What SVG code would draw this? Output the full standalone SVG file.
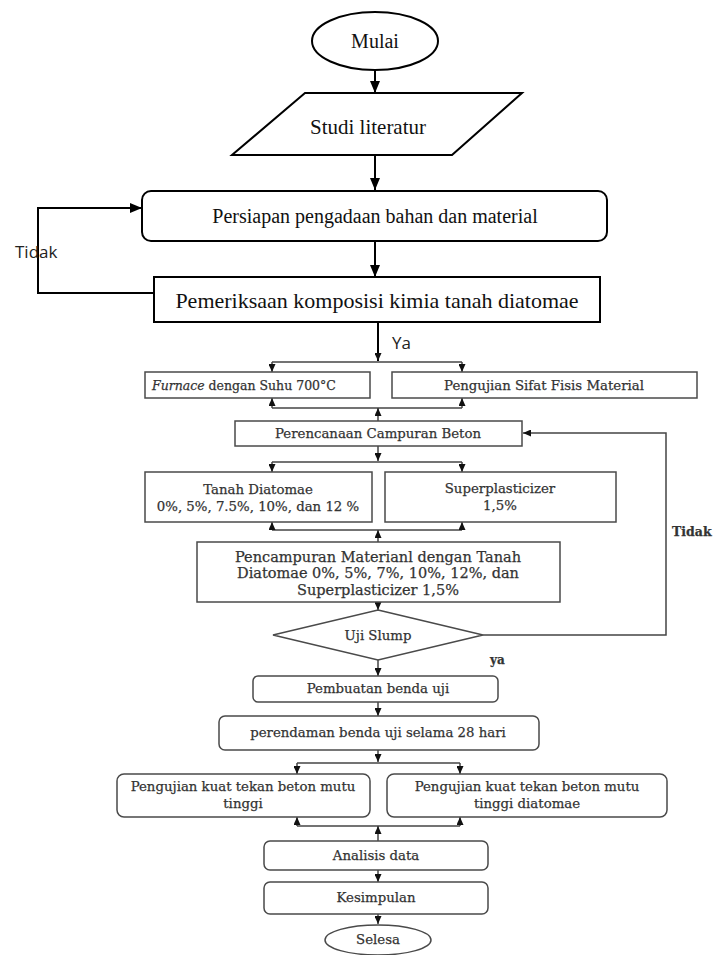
<svg xmlns="http://www.w3.org/2000/svg" width="718" height="955" viewBox="0 0 718 955">
<style>
.up{fill:#fff;stroke:#000;stroke-width:2}
.lo{fill:#fff;stroke:#4a4a4a;stroke-width:1.5}
.tu{font-family:"Liberation Serif","Times New Roman",serif;fill:#111;text-anchor:middle}
.tl{font-family:"DejaVu Serif","Liberation Serif",serif;font-size:13.3px;fill:#333;stroke:#333;stroke-width:0.25;text-anchor:middle}
.sa{font-family:"Open Sans","Liberation Sans",sans-serif;font-size:17px;fill:#222}
.cu{fill:none;stroke:#000;stroke-width:2}
.cl{fill:none;stroke:#444;stroke-width:1.5}
</style>
<defs>
<marker id="ab" markerUnits="userSpaceOnUse" markerWidth="12" markerHeight="10" refX="12" refY="5" orient="auto"><path d="M0,0 L12,5 L0,10 z" fill="#000"/></marker>
<marker id="as" markerUnits="userSpaceOnUse" markerWidth="8" markerHeight="7" refX="8" refY="3.5" orient="auto"><path d="M0,0 L8,3.5 L0,7 z" fill="#111"/></marker>
</defs>
<g id="connectors">
<path class="cu" d="M375,71 V93" marker-end="url(#ab)"/>
<path class="cu" d="M375,155 V190" marker-end="url(#ab)"/>
<path class="cu" d="M375,241 V277" marker-end="url(#ab)"/>
<path class="cu" d="M154,293 H38 V208 H142" marker-end="url(#ab)"/>
<path class="cu" d="M378,322 V361" marker-end="url(#as)"/>
<path class="cl" d="M272,362 H462"/>
<path class="cl" d="M272,362 V372" marker-end="url(#as)"/>
<path class="cl" d="M462,362 V372" marker-end="url(#as)"/>
<path class="cl" d="M272,408 H462"/>
<path class="cl" d="M272,408 V398" marker-end="url(#as)"/>
<path class="cl" d="M462,408 V398" marker-end="url(#as)"/>
<path class="cl" d="M378,421 V408" marker-end="url(#as)"/>
<path class="cl" d="M378,446 V461" marker-end="url(#as)"/>
<path class="cl" d="M272,462 H462"/>
<path class="cl" d="M272,462 V472" marker-end="url(#as)"/>
<path class="cl" d="M462,462 V472" marker-end="url(#as)"/>
<path class="cl" d="M272,530 H462"/>
<path class="cl" d="M272,530 V522" marker-end="url(#as)"/>
<path class="cl" d="M462,530 V522" marker-end="url(#as)"/>
<path class="cl" d="M378,542 V530" marker-end="url(#as)"/>
<path class="cl" d="M378,602 V610" marker-end="url(#as)"/>
<path class="cl" d="M483,635 H666 V433 H523" marker-end="url(#as)"/>
<path class="cl" d="M378,660 V676" marker-end="url(#as)"/>
<path class="cl" d="M378,702 V716" marker-end="url(#as)"/>
<path class="cl" d="M378,750 V762" marker-end="url(#as)"/>
<path class="cl" d="M297,763 H460"/>
<path class="cl" d="M297,763 V774" marker-end="url(#as)"/>
<path class="cl" d="M460,763 V774" marker-end="url(#as)"/>
<path class="cl" d="M297,826 H460"/>
<path class="cl" d="M297,826 V817" marker-end="url(#as)"/>
<path class="cl" d="M460,826 V817" marker-end="url(#as)"/>
<path class="cl" d="M378,841 V826" marker-end="url(#as)"/>
<path class="cl" d="M378,870 V882" marker-end="url(#as)"/>
<path class="cl" d="M378,914 V924" marker-end="url(#as)"/>
<text class="sa" x="15" y="258">Tidak</text>
<text class="sa" x="392" y="349">Ya</text>
<text class="tl" x="672" y="536" style="text-anchor:start;font-weight:bold;font-size:12.5px">Tidak</text>
<text class="tl" x="490" y="664" style="text-anchor:start;font-weight:bold;font-size:12px">ya</text>
</g>
<g id="mulai">
<ellipse class="up" cx="375" cy="41" rx="63" ry="29"/>
<text class="tu" x="375" y="48" font-size="20">Mulai</text>
</g>
<g id="studi">
<polygon class="up" points="305,93 522,93 452,155 232,155"/>
<text class="tu" x="368" y="134" font-size="21">Studi literatur</text>
</g>
<g id="persiapan">
<rect class="up" x="142" y="191" width="465" height="50" rx="9"/>
<text class="tu" x="375" y="223" font-size="20">Persiapan pengadaan bahan dan material</text>
</g>
<g id="pemeriksaan">
<rect class="up" x="154" y="277" width="446" height="45"/>
<text class="tu" x="377" y="308" font-size="22">Pemeriksaan komposisi kimia tanah diatomae</text>
</g>
<g id="furnace">
<rect class="lo" x="145" y="372" width="225" height="26"/>
<text class="tl" x="152" y="390" style="text-anchor:start;font-size:12.5px"><tspan font-style="italic">Furnace</tspan> dengan Suhu 700°C</text>
</g>
<g id="fisis">
<rect class="lo" x="392" y="372" width="305" height="26"/>
<text class="tl" x="544" y="390">Pengujian Sifat Fisis Material</text>
</g>
<g id="perencanaan">
<rect class="lo" x="235" y="421" width="287" height="25"/>
<text class="tl" x="378" y="438">Perencanaan Campuran Beton</text>
</g>
<g id="tanah">
<rect class="lo" x="145" y="472" width="227" height="50"/>
<text class="tl" x="258" y="494">Tanah Diatomae</text>
<text class="tl" x="258" y="511">0%, 5%, 7.5%, 10%, dan 12 %</text>
</g>
<g id="superplasticizer">
<rect class="lo" x="385" y="472" width="231" height="50"/>
<text class="tl" x="500" y="493">Superplasticizer</text>
<text class="tl" x="500" y="510">1,5%</text>
</g>
<g id="pencampuran">
<rect class="lo" x="197" y="542" width="363" height="60"/>
<text class="tl" x="378" y="562" style="font-size:14.5px">Pencampuran Materianl dengan Tanah</text>
<text class="tl" x="378" y="578" style="font-size:14.5px">Diatomae 0%, 5%, 7%, 10%, 12%, dan</text>
<text class="tl" x="378" y="595" style="font-size:14.5px">Superplasticizer 1,5%</text>
</g>
<g id="slump">
<polygon class="lo" points="378,610 483,635 378,660 273,635"/>
<text class="tl" x="378" y="640">Uji Slump</text>
</g>
<g id="pembuatan">
<rect class="lo" x="253" y="676" width="245" height="26" rx="5"/>
<text class="tl" x="378" y="693">Pembuatan benda uji</text>
</g>
<g id="perendaman">
<rect class="lo" x="219" y="716" width="320" height="34" rx="6"/>
<text class="tl" x="378" y="737">perendaman benda uji selama 28 hari</text>
</g>
<g id="uji-mutu">
<rect class="lo" x="117" y="774" width="253" height="43" rx="7"/>
<text class="tl" x="243" y="791">Pengujian kuat tekan beton mutu</text>
<text class="tl" x="243" y="808">tinggi</text>
</g>
<g id="uji-diatomae">
<rect class="lo" x="387" y="774" width="280" height="43" rx="7"/>
<text class="tl" x="527" y="791">Pengujian kuat tekan beton mutu</text>
<text class="tl" x="527" y="808">tinggi diatomae</text>
</g>
<g id="analisis">
<rect class="lo" x="264" y="841" width="224" height="29" rx="6"/>
<text class="tl" x="376" y="860">Analisis data</text>
</g>
<g id="kesimpulan">
<rect class="lo" x="264" y="882" width="224" height="32" rx="6"/>
<text class="tl" x="376" y="902">Kesimpulan</text>
</g>
<g id="selesa">
<ellipse class="lo" cx="378" cy="940" rx="53" ry="15"/>
<text class="tl" x="378" y="944">Selesa</text>
</g>
</svg>
